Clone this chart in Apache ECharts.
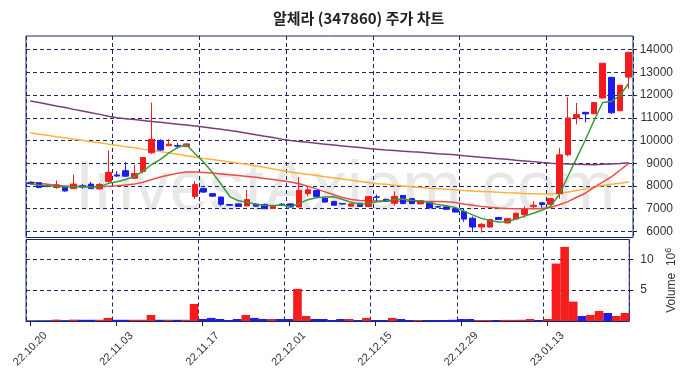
<!DOCTYPE html>
<html>
<head>
<meta charset="utf-8">
<script src="https://cdn.jsdelivr.net/npm/echarts@6/dist/echarts.min.js"></script>
<style>
html,body{margin:0;padding:0;background:#fff;}
#chart{width:686px;height:378px;}
</style>
</head>
<body>
<div id="chart"></div>
<script>
const dates = ['22.10.20','22.10.21','22.10.24','22.10.25','22.10.26','22.10.27','22.10.28','22.10.31','22.11.01','22.11.02',
'22.11.03','22.11.04','22.11.07','22.11.08','22.11.09','22.11.10','22.11.11','22.11.14','22.11.15','22.11.16',
'22.11.17','22.11.18','22.11.21','22.11.22','22.11.23','22.11.24','22.11.25','22.11.28','22.11.29','22.11.30',
'22.12.01','22.12.02','22.12.05','22.12.06','22.12.07','22.12.08','22.12.09','22.12.12','22.12.13','22.12.14',
'22.12.15','22.12.16','22.12.19','22.12.20','22.12.21','22.12.22','22.12.23','22.12.26','22.12.27','22.12.28',
'22.12.29','23.01.02','23.01.03','23.01.04','23.01.05','23.01.06','23.01.09','23.01.10','23.01.11','23.01.12',
'23.01.13','23.01.16','23.01.17','23.01.18','23.01.19','23.01.20','23.01.25','23.01.26','23.01.27','23.01.30'];

const opens = [8150,8140,8000,7930,7980,7880,8010,8080,7870,8200,
8480,8670,8340,8640,9460,10000,9770,9780,9740,7540,
7890,7660,7510,7180,7210,7120,7200,7190,7010,7200,
7210,7070,7660,7800,7460,7320,7230,7110,7240,7090,
7520,7410,7240,7580,7440,7210,7270,7090,7080,7000,
6880,6580,6190,6190,6610,6370,6540,6730,7100,7260,
7190,7660,9370,11000,11240,11180,11870,12780,11310,12790];

const closes = [8100,7930,7970,8050,7780,8080,7950,7880,8060,8600,
8440,8430,8550,9250,10050,9580,9840,9750,9850,8060,
7730,7550,7190,7150,7100,7400,7110,7000,7100,7170,
7070,7810,7830,7540,7290,7150,7200,7210,7100,7530,
7500,7330,7540,7220,7220,7350,7030,7070,6970,6850,
6540,6190,6310,6520,6520,6560,6800,6960,7150,7180,
7440,9370,10990,11140,11170,11670,13400,11220,12430,13880];

const lows = [8050,7900,7950,7880,7750,7870,7880,7870,7850,8150,
8400,8400,8310,8550,9400,9550,9770,9640,9700,7420,
7700,7520,7110,7130,7090,7100,7090,6990,6990,7150,
7050,7050,7540,7530,7270,7130,7180,7100,7080,7080,
7300,7310,7140,7200,7210,7200,7020,7040,6950,6830,
6420,5970,5950,6170,6500,6350,6530,6600,7010,7040,
7170,7440,9300,10710,10800,11160,11850,11170,11290,12280];

const highs = [8200,8160,8050,8240,8000,8500,8080,8180,8130,9560,
8650,9050,8930,9280,11670,10050,10060,9890,9880,8210,
7920,7680,7530,7200,7230,7840,7240,7220,7120,7250,
7230,8390,7950,7810,7500,7330,7250,7250,7250,7560,
7620,7440,7760,7600,7460,7370,7290,7120,7100,7020,
7000,6660,6360,6540,6640,6580,6830,7110,7330,7280,
7460,9680,11910,11650,11260,11700,13420,12800,12440,13900];

const volumes = [50000,80000,100000,220000,120000,220000,200000,200000,200000,500000,
200000,200000,200000,200000,970000,200000,200000,200000,200000,2760000,
320000,500000,320000,160000,320000,970000,500000,320000,320000,320000,
320000,5200000,810000,320000,320000,160000,320000,320000,160000,500000,
160000,160000,500000,320000,160000,160000,160000,160000,160000,200000,
320000,320000,160000,160000,160000,180000,180000,200000,320000,160000,
320000,9300000,12000000,3140000,810000,970000,1620000,1300000,810000,1300000];

const ma5 = [8080,8040,8010,7990,7966,7962,7966,7948,7950,8114,
8186,8282,8416,8654,8944,9172,9454,9694,9814,9416,
9046,8588,8076,7536,7344,7278,7190,7152,7142,7156,
7090,7230,7396,7484,7508,7524,7402,7278,7190,7238,
7308,7334,7400,7424,7362,7332,7272,7178,7128,7054,
6892,6724,6572,6482,6416,6420,6542,6672,6798,6930,
7106,7620,8426,9224,10022,10868,11674,11720,11978,12520];

const ma20 = [8170,8120,8070,8020,8000,7990,7980,7980,7980,7990,
8010,8040,8080,8160,8280,8390,8480,8560,8610,8610,
8590,8570,8530,8490,8460,8420,8380,8330,8280,8230,
8170,8100,7990,7870,7740,7610,7490,7400,7360,7350,
7340,7340,7340,7330,7330,7330,7320,7320,7300,7270,
7200,7150,7100,7060,7030,7010,7000,7000,7000,7010,
7050,7170,7310,7500,7680,7940,8170,8400,8690,8990];

const ma60 = [10340,10280,10230,10170,10120,10060,10010,9950,9900,9840,
9790,9730,9680,9620,9570,9510,9450,9390,9330,9270,
9210,9160,9110,9050,9000,8950,8880,8820,8750,8680,
8610,8560,8510,8460,8400,8350,8300,8250,8200,8150,
8100,8070,8030,8000,7960,7930,7900,7880,7850,7830,
7800,7780,7760,7740,7720,7700,7690,7670,7660,7650,
7640,7680,7730,7800,7870,7950,8020,8070,8120,8170];

const ma120 = [11740,11670,11600,11520,11450,11370,11300,11220,11150,11070,
11000,10960,10920,10880,10840,10800,10760,10720,10680,10640,
10590,10540,10490,10440,10380,10320,10250,10190,10130,10060,
10000,9960,9920,9880,9840,9800,9760,9720,9690,9650,
9610,9580,9560,9530,9500,9480,9450,9420,9400,9370,
9330,9300,9260,9230,9200,9170,9130,9100,9070,9030,
9000,8980,8960,8950,8940,8930,8950,8970,8990,9020];

const priceTicks = [6000,7000,8000,9000,10000,11000,12000,13000,14000];
const volumeTicks = [5000000,10000000];

const UP = '#f41c1c', DOWN = '#1c1cf0';
const GRIDC = '#18296a';
const dash = {type:[4,3], color:GRIDC, width:1};
const labelEvery = (i) => i % 10 === 0;
const FONT = '"Liberation Sans", Arial, sans-serif';

const chart = echarts.init(document.getElementById('chart'), null, {renderer:'canvas'});
chart.setOption({
  animation:false,
  backgroundColor:'#fff',
  title:{text:'알체라 (347860) 주가 차트', left:268, top:6,
    textStyle:{fontFamily:'Noto Sans CJK KR', fontSize:15, fontWeight:'bold', color:'#222'}},
  graphic:[{type:'text', x:345, y:190, z:-10, silent:true,
    style:{text:'InvestAxiom.com', font:'71px "Liberation Sans", Arial, sans-serif', fill:'#e8e8e8',
      textAlign:'center', textVerticalAlign:'middle'}}],
  grid:[
    {left:26, right:53, top:36, height:201.5, show:true, borderColor:GRIDC, borderWidth:1, backgroundColor:'transparent'},
    {left:26, right:53, top:239.5, height:81.5, show:true, borderColor:GRIDC, borderWidth:1, backgroundColor:'transparent'}
  ],
  xAxis:[
    {type:'category', gridIndex:0, data:dates, boundaryGap:true,
      axisLine:{show:false}, axisTick:{show:false}, axisLabel:{show:false},
      splitLine:{show:true, interval:(i)=>labelEvery(i), lineStyle:dash}},
    {type:'category', gridIndex:1, data:dates, boundaryGap:true,
      axisLine:{show:true, lineStyle:{color:GRIDC}},
      axisTick:{show:true, alignWithLabel:true, interval:(i)=>labelEvery(i), length:5, lineStyle:{color:'#222'}},
      axisLabel:{show:true, interval:(i)=>labelEvery(i), rotate:45, align:'center', verticalAlign:'middle',
        margin:28, fontSize:11, color:'#333', fontFamily:FONT},
      splitLine:{show:true, interval:(i)=>labelEvery(i), lineStyle:dash}}
  ],
  yAxis:[
    {type:'value', gridIndex:0, position:'right', min:5730, max:14600, scale:true,
      axisLine:{show:false},
      axisTick:{show:true, customValues:priceTicks, length:4, lineStyle:{color:'#222'}},
      axisLabel:{customValues:priceTicks, align:'right', margin:40, fontSize:12, color:'#333',
        fontFamily:FONT, formatter:(v)=>String(v)},
      splitLine:{show:true, lineStyle:dash}},
    {type:'value', gridIndex:1, position:'right', min:0, max:13200000,
      axisLine:{show:false},
      axisTick:{show:true, customValues:volumeTicks, length:4, lineStyle:{color:'#222'}},
      axisLabel:{customValues:volumeTicks, margin:11, fontSize:12, color:'#333', fontFamily:FONT,
        formatter:(v)=> String(Math.round(v/1e6))},
      splitLine:{show:true, lineStyle:dash},
      name:'Volume  10{sup|6}', nameLocation:'middle', nameRotate:90, nameGap:30,
      nameTextStyle:{fontSize:12, color:'#333', fontFamily:FONT,
        rich:{sup:{fontSize:9, verticalAlign:'top', padding:[0,0,6,0], color:'#333'}}}}
  ],
  series:[
    {type:'line', name:'MA120', xAxisIndex:0, yAxisIndex:0, data:ma120, symbol:'none',
      lineStyle:{color:'#7a3c7a', width:1.5}, z:1},
    {type:'line', name:'MA60', xAxisIndex:0, yAxisIndex:0, data:ma60, symbol:'none',
      lineStyle:{color:'#ffb03a', width:1.5}, z:1},
    {type:'line', name:'MA20', xAxisIndex:0, yAxisIndex:0, data:ma20, symbol:'none',
      lineStyle:{color:'#f04a4a', width:1.5}, z:1},
    {type:'candlestick', name:'price', xAxisIndex:0, yAxisIndex:0, barWidth:'70%',
      data:dates.map((d,i)=>[opens[i], closes[i], lows[i], highs[i]]),
      itemStyle:{color:UP, color0:DOWN, borderColor:UP, borderColor0:DOWN, borderWidth:1}, z:2},
    {type:'line', name:'MA5', xAxisIndex:0, yAxisIndex:0, data:ma5, symbol:'none',
      lineStyle:{color:'#3a9a3a', width:1.5}, z:3},
    {type:'bar', name:'volume', xAxisIndex:1, yAxisIndex:1, barWidth:'100%', barCategoryGap:'0%',
      data:volumes.map((v,i)=>({value:v, itemStyle:{color: closes[i] >= opens[i] ? UP : DOWN}})), z:2}
  ]
});
</script>
</body>
</html>
